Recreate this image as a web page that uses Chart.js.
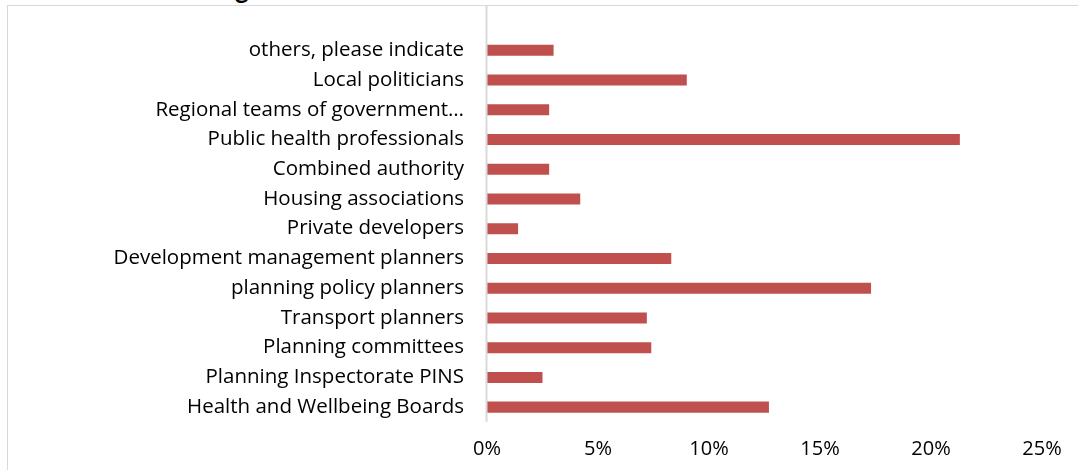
<!DOCTYPE html>
<html>
<head>
<meta charset="utf-8">
<script src="https://cdn.jsdelivr.net/npm/chart.js@4/dist/chart.umd.min.js"></script>
<style>
  html, body { margin: 0; padding: 0; background: #fff; overflow: hidden; }
  #wrap { position: relative; width: 1078px; height: 470px; overflow: hidden; }
  #frame { position: absolute; left: 7px; top: 5px; width: 1200px; height: 600px; border: 1px solid #d9d9d9; box-sizing: border-box; }
  #title { position: absolute; left: 235px; top: -24px; font: bold 26px Lato, "Open Sans", sans-serif; line-height: 1; color: #000; white-space: nowrap; }
  #c { position: absolute; left: 0; top: 0; }
</style>
</head>
<body>
<div id="wrap">
  <div id="frame"></div>
  <div id="title">g</div>
  <canvas id="c" width="1078" height="470"></canvas>
</div>
<script>
const categories = [
  "others, please indicate",
  "Local politicians",
  "Regional teams of government\u2026",
  "Public health professionals",
  "Combined authority",
  "Housing associations",
  "Private developers",
  "Development management planners",
  "planning policy planners",
  "Transport planners",
  "Planning committees",
  "Planning Inspectorate PINS",
  "Health and Wellbeing Boards"
];
const values = [3.0, 9.0, 2.8, 21.3, 2.8, 4.2, 1.4, 8.3, 17.3, 7.2, 7.4, 2.5, 12.7];
const xTicks = [0, 5, 10, 15, 20, 25];

const FONT = '"Open Sans", Lato, sans-serif';

const axisLine = {
  id: 'axisLine',
  afterDatasetsDraw(chart) {
    const ctx = chart.ctx;
    const x = Math.round(chart.scales.x.getPixelForValue(0)) + 0.5;
    ctx.save();
    ctx.strokeStyle = '#d9d9d9';
    ctx.lineWidth = 2;
    ctx.beginPath();
    ctx.moveTo(x - 1, 6);
    ctx.lineTo(x - 1, chart.chartArea.bottom);
    ctx.stroke();
    ctx.restore();
  }
};

new Chart(document.getElementById('c'), {
  type: 'bar',
  data: {
    labels: categories,
    datasets: [{
      data: values,
      backgroundColor: '#c0504d',
      borderWidth: 0,
      barPercentage: 0.37,
      categoryPercentage: 1.0
    }]
  },
  options: {
    indexAxis: 'y',
    responsive: false,
    animation: false,
    devicePixelRatio: 1,
    layout: { padding: { top: 35, right: 36, bottom: 0, left: 0 } },
    plugins: { legend: { display: false }, tooltip: { enabled: false }, title: { display: false } },
    scales: {
      x: {
        min: 0, max: 25,
        afterBuildTicks(scale) { scale.ticks = xTicks.map(v => ({ value: v })); },
        afterFit(scale) { scale.height = 48; },
        grid: { display: false, drawTicks: false },
        border: { display: false },
        ticks: {
          padding: 15,
          color: '#000',
          font: { family: FONT, size: 20 },
          callback: v => v + '%'
        }
      },
      y: {
        afterFit(scale) { scale.width = 487; },
        grid: { display: false, drawTicks: false },
        border: { display: false },
        ticks: {
          padding: 23,
          color: '#000',
          autoSkip: false,
          font: { family: FONT, size: 20.5 }
        }
      }
    }
  },
  plugins: [axisLine]
});
</script>
</body>
</html>
